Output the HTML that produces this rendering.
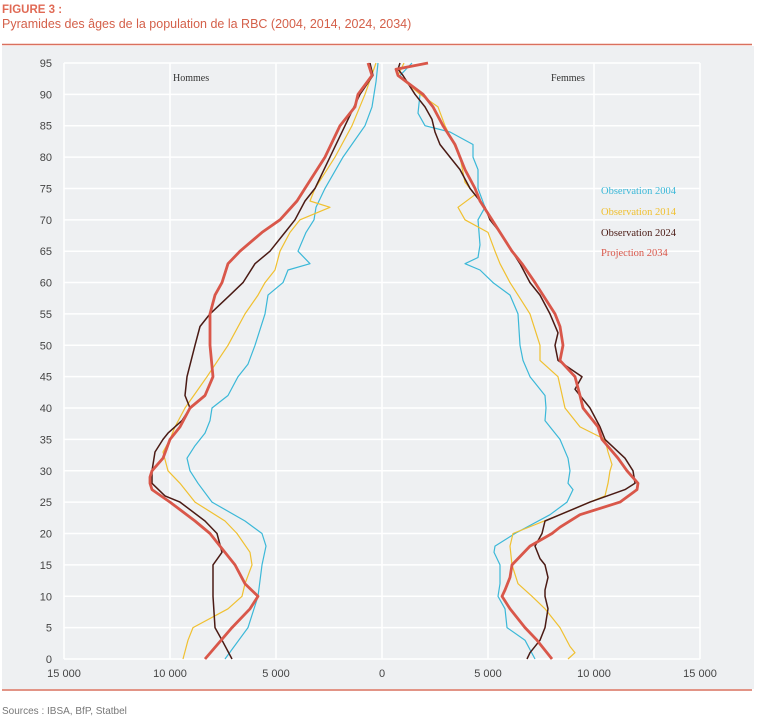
<!DOCTYPE html>
<html><head><meta charset="utf-8"><style>
body{margin:0;background:#fff;}
svg{display:block;font-family:"Liberation Sans",sans-serif;}
</style></head><body>
<svg id="s" width="760" height="718" xmlns="http://www.w3.org/2000/svg">
<text x="2" y="13" font-size="11.5" font-weight="bold" fill="#e06a55">FIGURE 3 :</text>
<text x="2" y="28" font-size="12.5" fill="#d4604a">Pyramides des âges de la population de la RBC (2004, 2014, 2024, 2034)</text>
<line x1="2" y1="44.5" x2="752" y2="44.5" stroke="#d9705e" stroke-width="1.5"/>
<rect x="2" y="46" width="752" height="643" fill="#eef0f2"/>
<line x1="2" y1="690" x2="752" y2="690" stroke="#d9705e" stroke-width="1.5"/>
<g id="grid" stroke="#fff" stroke-width="1.5"></g>
<g id="lab" font-size="11" fill="#444"></g>
<text x="173" y="81" font-size="10" font-family="Liberation Serif,serif" fill="#333">Hommes</text>
<text x="551" y="81" font-size="10" font-family="Liberation Serif,serif" fill="#333">Femmes</text>
<g font-size="10.5" font-family="Liberation Serif,serif">
<text x="601" y="194" fill="#3bb8d8">Observation 2004</text>
<text x="601" y="215" fill="#f0c030">Observation 2014</text>
<text x="601" y="236" fill="#4a1a14">Observation 2024</text>
<text x="601" y="256" fill="#d9574a">Projection 2034</text>
</g>
<g id="lines" fill="none" stroke-linejoin="round"></g>
<text x="2" y="714" font-size="10" fill="#777">Sources : IBSA, BfP, Statbel</text>
</svg>
<script>
var NS="http://www.w3.org/2000/svg";
function Y(a){return 659-a*6.274;}
function el(p,t,at,txt){var e=document.createElementNS(NS,t);for(var k in at)e.setAttribute(k,at[k]);if(txt!==undefined)e.textContent=String(txt);document.getElementById(p).appendChild(e);}
for(var i=0;i<7;i++){var x=64+i*106;el("grid","line",{x1:x,y1:Y(95),x2:x,y2:Y(0)});
el("lab","text",{x:x,y:677,"text-anchor":"middle"},["15 000","10 000","5 000","0","5 000","10 000","15 000"][i]);}
for(var a=0;a<=95;a+=5){el("grid","line",{x1:64,y1:Y(a),x2:700,y2:Y(a)});el("lab","text",{x:52,y:Y(a)+4,"text-anchor":"end"},a);}
var S=[
["#3bb8d8",1.2,"0:225 5:248 10:258 15:262 18:266 20:262 22:245 25:212 28:198 30:190 32:187 34:195 36:205 38:210 40:212 42:228 45:238 47:248 50:255 55:265 58:268 60:283 62:288 63:310 65:298 68:306 70:314 72:316 75:325 80:343 85:365 88:372 92:376 95:378"],
["#f0c030",1.2,"0:183 3:188 5:193 8:228 10:242 12:245 15:252 17:250 20:237 22:225 25:195 28:180 30:168 33:163 35:170 37:175 40:185 45:207 50:228 55:245 58:258 60:265 62:275 65:280 68:290 70:300 72:330 73:310 75:315 80:335 85:352 90:365 95:376"],
["#4a1a14",1.5,"0:232 3:222 5:215 10:213 12:213 15:213 17:222 20:217 22:205 25:180 26:165 28:152 30:152 33:155 35:163 36:168 38:182 40:190 42:185 45:187 50:195 53:200 55:210 58:230 60:243 63:255 65:270 68:285 70:295 73:305 75:315 80:330 85:345 90:360 93:373 95:370"],
["#d9574a",2.8,"0:205 5:232 8:250 10:258 12:245 15:235 18:220 20:210 22:195 25:170 27:152 28:150 29:150 30:152 32:163 35:170 37:180 40:190 42:205 45:213 50:210 55:210 58:215 60:222 63:228 65:240 68:262 70:280 73:297 75:305 80:325 85:340 88:355 90:358 93:372 95:368"],
["#3bb8d8",1.2,"0:535 3:525 5:507 8:505 10:498 12:500 15:500 17:494 18:495 20:515 23:550 25:567 27:573 28:568 30:570 32:568 35:560 38:545 40:546 42:545 45:530 47.6:523 50:520 55:518 58:510 60:493 62:480 63:465 64:478 66:480 70:478 72:485 75:478 78:478 80:473 82:473 84:450 85:425 87:418 90:420 93:400 95:412"],
["#f0c030",1.2,"0:568 1:575 2:570 5:560 8:545 10:532 12:518 15:512 18:510 20:513 23:560 25:590 26:605 28:608 30:610 31:612 33:608 35:605 37:580 40:565 45:558 47.6:540 50:540 55:530 58:518 60:510 63:500 65:495 68:488 70:465 72:458 74:475 76:465 80:460 85:445 88:438 90:420 93:398 95:404"],
["#4a1a14",1.5,"0:527 1:530 3:540 5:545 8:548 10:545 11:545 13:548 15:545 16:540 18:535 20:542 22:545 23:560 25:590 27:625 28:635 30:633 32:625 35:605 37:600 40:590 42:580 43:575 45:582 47.6:558 50:555 52:558 55:550 58:540 60:530 63:520 65:512 68:500 70:490 72:485 75:470 78:460 80:450 82:440 84:435 86:432 88:425 90:415 93:403 94:398 95:400"],
["#d9574a",2.8,"0:552 3:537 5:525 8:510 10:502 11:505 13:510 15:512 16:518 18:530 20:552 21:560 23:580 25:620 27:637 28:638 30:627 32:618 35:602 37:598 40:583 42:580 45:575 47.6:560 50:563 53:560 55:555 58:543 60:535 63:522 65:512 68:500 70:492 73:480 75:475 78:465 80:460 82:455 85:443 88:433 90:423 93:398 94:396 95:428"]];
S.forEach(function(s){var pts=s[2].split(" ").map(function(p){var q=p.split(":");return q[1]+","+Y(+q[0]).toFixed(1);}).join(" ");
el("lines","polyline",{points:pts,stroke:s[0],"stroke-width":s[1]});});
</script>
</body></html>
